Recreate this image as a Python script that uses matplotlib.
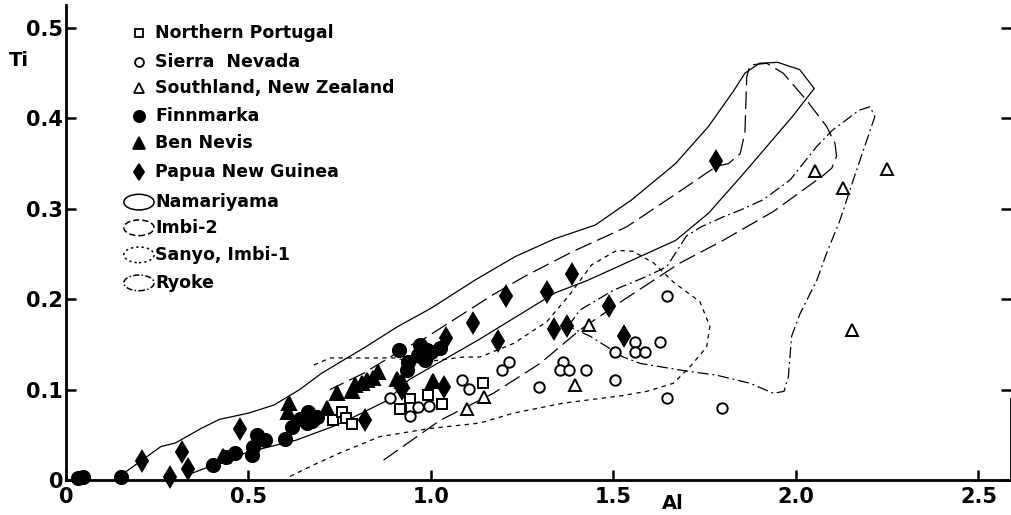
import numpy as np
import matplotlib
matplotlib.use("Agg")
from matplotlib import pyplot as plt
from matplotlib.patches import Ellipse

plt.rcParams['font.family'] = ['DejaVu Sans']
plt.rcParams['font.weight'] = 'bold'

# point data (Al, Ti)
np_x = [0.732, 0.755, 0.767, 0.783, 0.915, 0.942, 0.945, 0.993, 1.029, 1.143]
np_y = [0.066, 0.075, 0.069, 0.062, 0.079, 0.090, 0.080, 0.094, 0.084, 0.107]

sn_x = [0.888, 0.942, 0.965, 0.995, 1.084, 1.105, 1.194, 1.214, 1.297, 1.362, 1.353, 1.379,
        1.426, 1.504, 1.504, 1.559, 1.559, 1.586, 1.627, 1.646, 1.646, 1.796]
sn_y = [0.091, 0.071, 0.081, 0.082, 0.111, 0.101, 0.122, 0.131, 0.103, 0.131, 0.122, 0.122,
        0.122, 0.142, 0.111, 0.153, 0.142, 0.142, 0.153, 0.203, 0.091, 0.080]

sl_x = [1.098, 1.145, 1.395, 1.434, 2.052, 2.129, 2.249, 2.153]
sl_y = [0.079, 0.092, 0.105, 0.171, 0.342, 0.323, 0.344, 0.166]

fm_x = [0.033, 0.047, 0.150, 0.404, 0.437, 0.463, 0.509, 0.513, 0.522, 0.545, 0.600, 0.618,
        0.641, 0.659, 0.663, 0.673, 0.687, 0.911, 0.938, 0.933, 0.970, 0.965, 0.988, 1.001,
        1.025, 0.984]
fm_y = [0.002, 0.003, 0.003, 0.017, 0.025, 0.030, 0.028, 0.037, 0.050, 0.044, 0.045, 0.059,
        0.068, 0.063, 0.075, 0.065, 0.070, 0.144, 0.131, 0.122, 0.149, 0.138, 0.144, 0.142,
        0.146, 0.133]

bn_x = [0.431, 0.609, 0.611, 0.714, 0.742, 0.783, 0.792, 0.810, 0.824, 0.842, 0.856, 0.906,
        0.920, 1.006]
bn_y = [0.027, 0.075, 0.085, 0.080, 0.096, 0.098, 0.105, 0.107, 0.111, 0.113, 0.119, 0.112,
        0.109, 0.110]

pg_x = [0.207, 0.285, 0.317, 0.333, 0.477, 0.819, 0.920, 1.036, 1.041, 1.114, 1.183, 1.205,
        1.317, 1.337, 1.373, 1.385, 1.489, 1.529, 1.781]
pg_y = [0.021, 0.003, 0.031, 0.012, 0.056, 0.066, 0.101, 0.103, 0.157, 0.174, 0.154, 0.203,
        0.208, 0.167, 0.170, 0.228, 0.192, 0.159, 0.353]

# field outlines
nam_x = [0.16, 0.26, 0.30, 0.37, 0.42, 0.50, 0.57, 0.64, 0.70, 0.77, 0.82, 0.91, 1.00, 1.12,
         1.23, 1.34, 1.45, 1.55, 1.67, 1.76, 1.83, 1.86, 1.90, 1.95, 2.01, 2.05, 1.99, 1.92,
         1.85, 1.76, 1.67, 1.55, 1.43, 1.34, 1.13, 0.94, 0.88, 0.79, 0.73, 0.63, 0.50, 0.335]
nam_y = [0.008, 0.037, 0.041, 0.057, 0.067, 0.074, 0.083, 0.100, 0.118, 0.135, 0.147, 0.170,
         0.190, 0.221, 0.247, 0.267, 0.282, 0.310, 0.350, 0.391, 0.431, 0.450, 0.461, 0.462,
         0.454, 0.433, 0.402, 0.369, 0.336, 0.295, 0.265, 0.243, 0.221, 0.207, 0.155, 0.111,
         0.088, 0.070, 0.059, 0.044, 0.031, 0.006]

imb_x = [0.87, 1.025, 1.171, 1.299, 1.408, 1.527, 1.682, 1.80, 1.938, 2.075, 2.098, 2.111,
         2.107, 2.084, 2.029, 1.965, 1.92, 1.874, 1.865, 1.86, 1.847, 1.815, 1.782, 1.673,
         1.536, 1.39, 1.26, 1.17, 0.98, 0.933, 0.815, 0.723]
imb_y = [0.022, 0.066, 0.096, 0.129, 0.166, 0.199, 0.240, 0.265, 0.297, 0.337, 0.345, 0.358,
         0.372, 0.391, 0.420, 0.450, 0.461, 0.459, 0.446, 0.384, 0.361, 0.350, 0.347, 0.317,
         0.280, 0.253, 0.226, 0.205, 0.156, 0.147, 0.118, 0.100]

san_x = [0.614, 0.68, 0.751, 0.86, 0.997, 1.134, 1.226, 1.362, 1.518, 1.591, 1.664, 1.709,
         1.755, 1.764, 1.737, 1.664, 1.61, 1.554, 1.509, 1.44, 1.38, 1.317, 1.226, 1.134,
         1.088, 0.952, 0.906, 0.723, 0.673]
san_y = [0.004, 0.017, 0.030, 0.048, 0.057, 0.063, 0.074, 0.085, 0.093, 0.098, 0.107, 0.125,
         0.147, 0.170, 0.197, 0.219, 0.240, 0.253, 0.254, 0.238, 0.205, 0.175, 0.151, 0.136,
         0.136, 0.129, 0.135, 0.135, 0.126]

ryo_x = [1.376, 1.408, 1.50, 1.59, 1.646, 1.70, 1.74, 1.80, 1.85, 1.91, 1.984, 2.057, 2.10,
         2.173, 2.203, 2.216, 2.194, 2.157, 2.121, 2.084, 2.057, 2.011, 1.988, 1.979, 1.967,
         1.938, 1.874, 1.782, 1.692, 1.573, 1.527, 1.436, 1.376]
ryo_y = [0.170, 0.188, 0.210, 0.225, 0.236, 0.270, 0.280, 0.291, 0.299, 0.310, 0.332, 0.369,
         0.387, 0.409, 0.413, 0.402, 0.376, 0.332, 0.288, 0.251, 0.221, 0.184, 0.159, 0.114,
         0.098, 0.096, 0.107, 0.116, 0.121, 0.129, 0.136, 0.159, 0.170]

labels_pts = ['Northern Portugal', 'Sierra  Nevada', 'Southland, New Zealand',
              'Finnmarka', 'Ben Nevis', 'Papua New Guinea']
labels_env = ['Namariyama', 'Imbi-2', 'Sanyo, Imbi-1', 'Ryoke']

xticks = [0, 0.5, 1.0, 1.5, 2.0, 2.5]
xtick_labels = ['0', '0.5', '1.0', '1.5', '2.0', '2.5']
yticks = [0, 0.1, 0.2, 0.3, 0.4, 0.5]
ytick_labels = ['0', '0.1', '0.2', '0.3', '0.4', '0.5']

fig = plt.figure(figsize=(10.12, 5.15), dpi=100)
ax = fig.add_axes([66 / 1012, 35 / 515, 945 / 1012, 475 / 515])
ax.set_xlim(0, 945 / 365)
ax.set_ylim(0, 475 / 904)

lw = 0.9
ax.plot(nam_x, nam_y, color='k', lw=lw, ls='-')
ax.plot(imb_x, imb_y, color='k', lw=lw, ls=(0, (14, 5)))
ax.plot(san_x, san_y, color='k', lw=lw, ls=(0, (3.5, 3.5)))
ax.plot(ryo_x, ryo_y, color='k', lw=lw, ls=(0, (9, 3, 1.5, 3)))

# point styles: marker, size, filled
styles = [('s', 7, False), ('o', 7.5, False), ('^', 8, False),
          ('o', 9.5, True), ('^', 9.5, True), ('d', 10, True)]
series = [(np_x, np_y), (sn_x, sn_y), (sl_x, sl_y), (fm_x, fm_y), (bn_x, bn_y), (pg_x, pg_y)]
for (sx, sy), (m, ms, filled) in zip(series, styles):
    ax.plot(sx, sy, ls='none', marker=m, ms=ms, mec='k', mew=1.4,
            mfc='k' if filled else 'white', clip_on=False, zorder=3)

# hand-made legend
rows = [0.941, 0.880, 0.825, 0.766, 0.709, 0.648]
for r, lab, (m, ms, filled) in zip(rows, labels_pts, styles):
    ax.plot([0.0772], [r], transform=ax.transAxes, ls='none', marker=m,
            ms=ms * 0.85, mec='k', mew=1.3, mfc='k' if filled else 'white')
    ax.text(0.0942, r, lab, transform=ax.transAxes, va='center', ha='left', fontsize=12.5)

env_rows = [0.585, 0.531, 0.474, 0.415]
env_ls = ['-', (0, (4, 2)), (0, (1.5, 2)), (0, (4, 1.5, 1, 1.5))]
for r, lab, st in zip(env_rows, labels_env, env_ls):
    e = Ellipse((0.0772, r), 0.032, 0.033, transform=ax.transAxes, fill=False,
                ec='k', lw=1.1, ls=st)
    ax.add_patch(e)
    ax.text(0.0942, r, lab, transform=ax.transAxes, va='center', ha='left', fontsize=12.5)

ax.spines['top'].set_visible(False)
ax.spines['right'].set_bounds(0, 0.09)
for s in ['left', 'bottom', 'right']:
    ax.spines[s].set_linewidth(2)

ax.set_xticks(xticks)
ax.set_xticklabels(xtick_labels)
ax.set_yticks(yticks)
ax.set_yticklabels(ytick_labels)
ax.tick_params(axis='both', direction='in', length=7, width=1.8, labelsize=15)
ax.tick_params(axis='y', right=True, pad=2)
ax.tick_params(axis='x', pad=5)

ax.text(-0.129, 0.4635, 'Ti', fontsize=14, ha='center', va='center', clip_on=False)
ax.text(1.663, -0.037, 'Al', fontsize=14, ha='center', va='bottom', clip_on=False)

fig.savefig('out.png', dpi=100)
